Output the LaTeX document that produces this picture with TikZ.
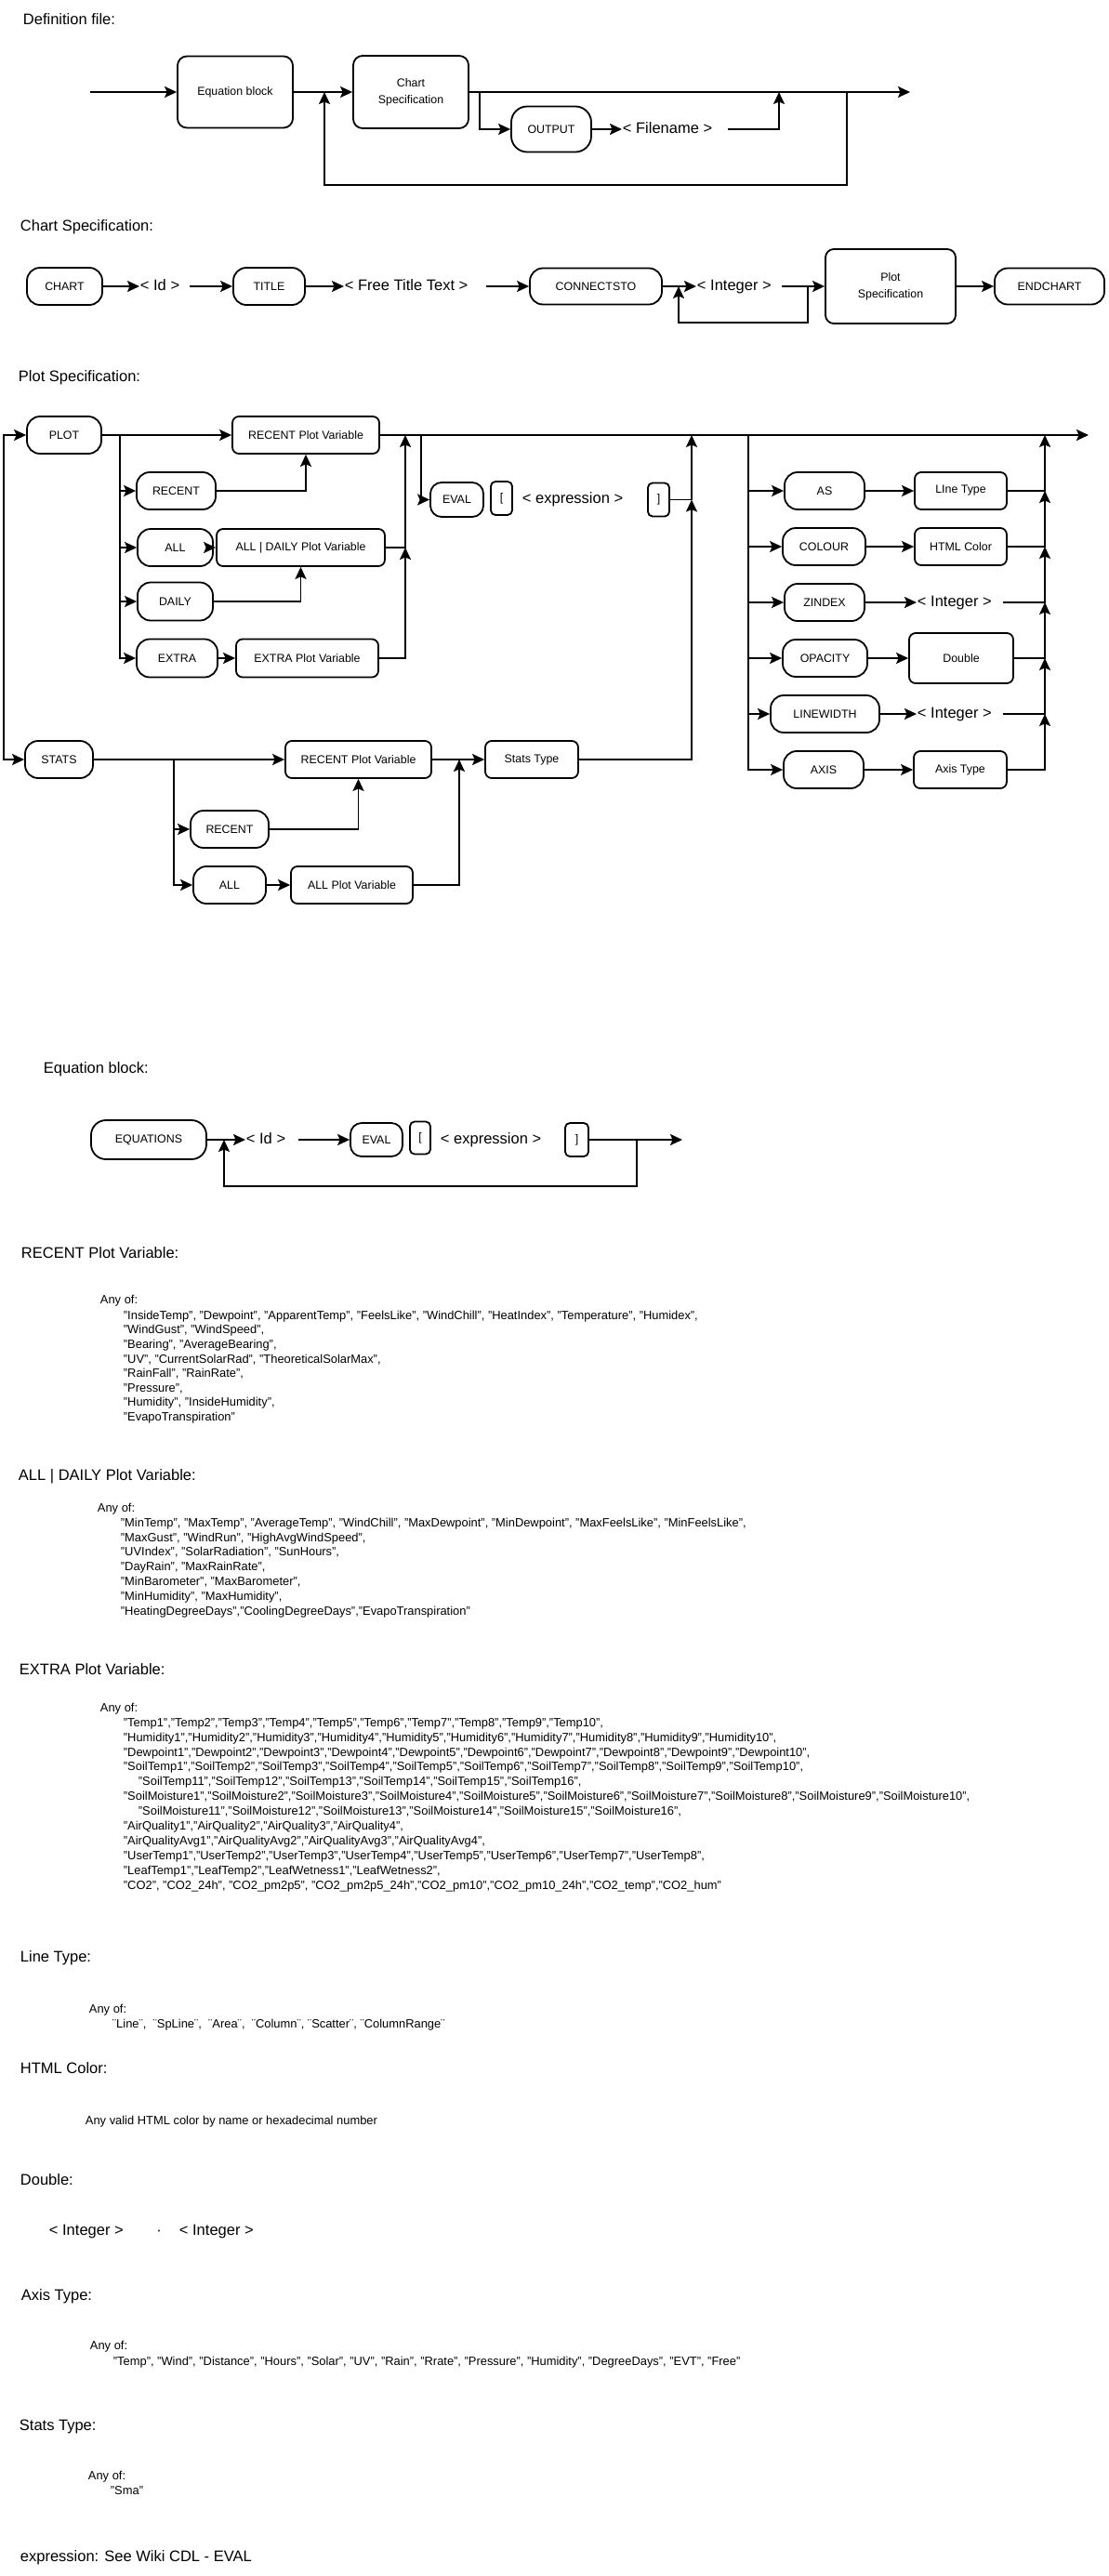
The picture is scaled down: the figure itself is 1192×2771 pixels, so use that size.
\documentclass[tikz,border=0pt]{standalone}
\usepackage{fontspec}
\setmainfont{Liberation Sans}
\usetikzlibrary{arrows.meta}
\tikzset{
        box/.style = {draw=black, line width=1.8pt, align=center, inner sep=0pt,
            font=\fontsize{12.4}{14}\selectfont},
        kw/.style = {box, rounded corners=14pt},
        nt/.style = {box, rounded corners=7pt},
        brk/.style = {box, rounded corners=5pt},
        tok/.style = {inner sep=0pt, text height=12pt, text depth=3.5pt,
            font=\fontsize{16.5}{18}\selectfont},
        head/.style = {anchor=west, inner sep=0pt, text height=12pt, text depth=3.5pt,
            font=\fontsize{16.5}{18}\selectfont},
        lst/.style = {anchor=west, inner sep=0pt, text height=9pt, text depth=2.5pt,
            font=\fontsize{12.9}{15}\selectfont}
    }
\begin{document}
\begin{tikzpicture}[x=1pt, y=-1pt, line width=1.9pt, ->,
        >={Stealth[length=13pt,width=12pt,inset=2.5pt]}]
\useasboundingbox (0,0) rectangle (1192,2771);

% Definition file
\node [head] (hdef) at (24,22) {Definition file:};
\coordinate (d0) at (97,99);
\node [nt, rounded corners=10pt, minimum width=124pt, minimum height=77pt] (eqb) at (253,99) {Equation block};
\node [nt, rounded corners=10pt, minimum width=124pt, minimum height=78pt] (chs) at (442,99) {Chart\\[4pt]Specification};
\node [kw, rounded corners=17pt, minimum width=86pt, minimum height=49pt] (out) at (593,139) {OUTPUT};
\node [tok, anchor=west] (fname) at (669,139) {< Filename >};
\coordinate (dend) at (979,99);
\coordinate (dj1) at (349,99);
\coordinate (dj2) at (516,99);
\coordinate (dj3) at (838,99);
\coordinate (dj4) at (911,99);
\draw (d0) -- (eqb);
\draw (eqb) -- (chs);
\draw (chs) -- (dend);
\draw (dj2) |- (out);
\draw (out) -- (fname);
\draw ([xshift=16pt]fname.east) -| (dj3);
\draw (dj4) -- ++(0,100) -| (dj1);

% Chart Specification
\node [head] (hchart) at (21,244) {Chart Specification:};
\node [kw, minimum width=81pt, minimum height=40pt] (chart) at (69.5,308) {CHART};
\node [tok, anchor=west] (cid) at (150,308) {< Id >};
\node [kw, minimum width=77pt, minimum height=40pt] (title) at (289.5,308) {TITLE};
\node [tok, anchor=west] (ftt) at (370,308) {< Free Title Text >};
\node [kw, minimum width=142pt, minimum height=39pt] (cto) at (641,308) {CONNECTSTO};
\node [tok, anchor=west] (cint) at (749,308) {< Integer >};
\node [nt, rounded corners=9pt, minimum width=140pt, minimum height=80pt] (psp) at (958,308) {Plot\\[4pt]Specification};
\node [kw, minimum width=118pt, minimum height=39pt] (endc) at (1129,308) {ENDCHART};
\coordinate (cj1) at (730,308);
\coordinate (cj2) at (869,308);
\draw (chart) -- (cid);
\draw ([xshift=10pt]cid.east) -- (title);
\draw (title) -- (ftt);
\draw ([xshift=19pt]ftt.east) -- (cto);
\draw (cto) -- (cint);
\draw ([xshift=10pt]cint.east) -- (psp);
\draw (psp) -- (endc);
\draw (cj2) -- ++(0,39) -| (cj1);

% Plot Specification
\node [head] (hplot) at (19,406) {Plot Specification:};
\node [kw, minimum width=80pt, minimum height=40pt] (plot) at (69,468) {PLOT};
\node [nt, minimum width=158pt, minimum height=40pt] (rpv) at (329,468) {RECENT Plot Variable};
\node [kw, minimum width=85pt, minimum height=40pt] (recent) at (189.5,528) {RECENT};
\node [kw, minimum width=81pt, minimum height=40pt] (all) at (188.5,589) {ALL};
\node [nt, minimum width=181pt, minimum height=40pt] (adpv) at (323.5,589) {ALL | DAILY Plot Variable};
\node [kw, minimum width=81pt, minimum height=41pt] (daily) at (188.5,647) {DAILY};
\node [kw, minimum width=87pt, minimum height=41pt] (extra) at (190.5,708) {EXTRA};
\node [nt, minimum width=153pt, minimum height=41pt] (epv) at (330.5,708) {EXTRA Plot Variable};
\node [kw, rounded corners=12pt, minimum width=57pt, minimum height=37pt] (eval) at (491.5,537.5) {EVAL};
\node [brk, minimum width=23pt, minimum height=36pt] (lbr) at (539.5,536) {[};
\node [tok, anchor=west] (expr) at (561,537.5) {< expression >};
\node [brk, minimum width=23pt, minimum height=36pt] (rbr) at (708.5,537.5) {]};
\node [kw, minimum width=86pt, minimum height=40pt] (as) at (887,528) {AS};
\node [nt, minimum width=99pt, minimum height=40pt] (ltype) at (1033.5,528) {LIne Type};
\node [kw, minimum width=89pt, minimum height=40pt] (colour) at (886.5,588) {COLOUR};
\node [nt, minimum width=99pt, minimum height=40pt] (html) at (1033.5,588) {HTML Color};
\node [kw, minimum width=86pt, minimum height=40pt] (zindex) at (887,648) {ZINDEX};
\node [tok, anchor=west] (zint) at (986,648) {< Integer >};
\node [kw, minimum width=91pt, minimum height=40pt] (opac) at (887.5,708) {OPACITY};
\node [nt, minimum width=112pt, minimum height=54pt] (dbl) at (1034,708) {Double};
\node [kw, minimum width=117pt, minimum height=40pt] (lw) at (887.5,768) {LINEWIDTH};
\node [tok, anchor=west] (lwint) at (986,768) {< Integer >};
\node [kw, minimum width=86pt, minimum height=40pt] (axis) at (886,828) {AXIS};
\node [nt, minimum width=100pt, minimum height=40pt] (atype) at (1033,828) {Axis Type};
\node [kw, minimum width=73pt, minimum height=40pt] (stats) at (63.5,817) {STATS};
\node [nt, minimum width=157pt, minimum height=40pt] (rpv2) at (385.5,817) {RECENT Plot Variable};
\node [kw, minimum width=84pt, minimum height=40pt] (recent2) at (247,892) {RECENT};
\node [kw, minimum width=78pt, minimum height=40pt] (all2) at (247,952) {ALL};
\node [nt, minimum width=131pt, minimum height=40pt] (apv) at (378.5,952) {ALL Plot Variable};
\node [nt, minimum width=100pt, minimum height=40pt] (stype) at (572,817) {Stats Type};
\coordinate (ppin) at (4,640);
\coordinate (pend) at (1171,468);
\coordinate (pb1) at (129,468);
\coordinate (pm1) at (436,589);
\coordinate (pm2) at (436,468);
\coordinate (pe0) at (453,468);
\coordinate (pm3) at (744,537.5);
\coordinate (pm4) at (744,468);
\coordinate (pq0) at (805,468);
\coordinate (pb2) at (187,817);
\coordinate (ps1) at (494,817);
\draw (ppin) |- (plot);
\draw (ppin) |- (stats);
\draw (plot) -- (rpv);
\draw (rpv) -- (pend);
\draw (pb1) |- (recent);
\draw (pb1) |- (all);
\draw (pb1) |- (daily);
\draw (pb1) |- (extra);
\draw (recent) -| (rpv);
\draw (all) -- (adpv);
\draw (daily) -| (adpv);
\draw (extra) -- (epv);
\draw (epv) -| (pm1);
\draw (adpv) -| (pm2);
\draw (pe0) |- (eval);
\draw (rbr) -| (pm4);
\foreach \opt in {as,colour,zindex,opac,lw,axis}
    \draw (pq0) |- (\opt);
\draw (as) -- (ltype);
\draw (colour) -- (html);
\draw (zindex) -- (zint);
\draw (opac) -- (dbl);
\draw (lw) -- (lwint);
\draw (axis) -- (atype);
\draw (atype) -| (1124,768);
\draw ([xshift=11pt]lwint.east) -| (1124,708);
\draw (dbl) -| (1124,648);
\draw ([xshift=11pt]zint.east) -| (1124,588);
\draw (html) -| (1124,528);
\draw (ltype) -| (1124,468);
\draw (stats) -- (rpv2);
\draw (pb2) |- (recent2);
\draw (pb2) |- (all2);
\draw (recent2) -| (rpv2);
\draw (all2) -- (apv);
\draw (apv) -| (ps1);
\draw (rpv2) -- (stype);
\draw (stype) -| (pm3);

% Equation block
\node [head] (heq) at (46,1150) {Equation block:};
\node [kw, rounded corners=16pt, minimum width=124pt, minimum height=42pt] (eqs) at (160,1226) {EQUATIONS};
\node [tok, anchor=west] (eid) at (264,1226) {< Id >};
\node [kw, rounded corners=12pt, minimum width=56pt, minimum height=36pt] (eval2) at (405,1226) {EVAL};
\node [brk, minimum width=22pt, minimum height=35pt] (lbr2) at (452,1224) {[};
\node [tok, anchor=west] (expr2) at (473,1226) {< expression >};
\node [brk, minimum width=25pt, minimum height=36pt] (rbr2) at (620.5,1226) {]};
\coordinate (eend) at (734,1226);
\coordinate (ej1) at (241,1226);
\coordinate (ej2) at (685,1226);
\draw (eqs) -- (eid);
\draw ([xshift=13pt]eid.east) -- (eval2);
\draw (rbr2) -- (eend);
\draw (ej2) -- ++(0,50) -| (ej1);

% RECENT Plot Variable
\node [head] (hrpv) at (22,1349) {RECENT Plot Variable:};
\node [lst] (rpvany) at (107,1399) {Any of:};
\foreach \txt [count=\i] in {
    {"InsideTemp", "Dewpoint", "ApparentTemp", "FeelsLike", "WindChill", "HeatIndex", "Temperature", "Humidex",},
    {"WindGust", "WindSpeed",},
    {"Bearing", "AverageBearing",},
    {"UV", "CurrentSolarRad", "TheoreticalSolarMax",},
    {"RainFall", "RainRate",},
    {"Pressure",},
    {"Humidity", "InsideHumidity",},
    {"EvapoTranspiration"}}
    \node [lst] (rpvl\i) at (132,1400.4+15.6*\i) {\txt};

% ALL | DAILY Plot Variable
\node [head] (hadpv) at (19,1588) {ALL | DAILY Plot Variable:};
\node [lst] (adpvany) at (104,1623) {Any of:};
\foreach \txt [count=\i] in {
    {"MinTemp", "MaxTemp", "AverageTemp", "WindChill", "MaxDewpoint", "MinDewpoint", "MaxFeelsLike", "MinFeelsLike",},
    {"MaxGust", "WindRun", "HighAvgWindSpeed",},
    {"UVIndex", "SolarRadiation", "SunHours",},
    {"DayRain", "MaxRainRate",},
    {"MinBarometer", "MaxBarometer",},
    {"MinHumidity", "MaxHumidity",},
    {"HeatingDegreeDays","CoolingDegreeDays","EvapoTranspiration"}}
    \node [lst] (adpvl\i) at (129,1623.2+15.8*\i) {\txt};

% EXTRA Plot Variable
\node [head] (hepv) at (20,1797) {EXTRA Plot Variable:};
\node [lst] (epvany) at (107,1838) {Any of:};
\foreach \txt [count=\i] in {
    {"Temp1","Temp2","Temp3","Temp4","Temp5","Temp6","Temp7","Temp8","Temp9","Temp10",},
    {"Humidity1","Humidity2","Humidity3","Humidity4","Humidity5","Humidity6","Humidity7","Humidity8","Humidity9","Humidity10",},
    {"Dewpoint1","Dewpoint2","Dewpoint3","Dewpoint4","Dewpoint5","Dewpoint6","Dewpoint7","Dewpoint8","Dewpoint9","Dewpoint10",},
    {"SoilTemp1","SoilTemp2","SoilTemp3","SoilTemp4","SoilTemp5","SoilTemp6","SoilTemp7","SoilTemp8","SoilTemp9","SoilTemp10",},
    {\hspace*{16pt}"SoilTemp11","SoilTemp12","SoilTemp13","SoilTemp14","SoilTemp15","SoilTemp16",},
    {"SoilMoisture1","SoilMoisture2","SoilMoisture3","SoilMoisture4","SoilMoisture5","SoilMoisture6","SoilMoisture7","SoilMoisture8","SoilMoisture9","SoilMoisture10",},
    {\hspace*{16pt}"SoilMoisture11","SoilMoisture12","SoilMoisture13","SoilMoisture14","SoilMoisture15","SoilMoisture16",},
    {"AirQuality1","AirQuality2","AirQuality3","AirQuality4",},
    {"AirQualityAvg1","AirQualityAvg2","AirQualityAvg3","AirQualityAvg4",},
    {"UserTemp1","UserTemp2","UserTemp3","UserTemp4","UserTemp5","UserTemp6","UserTemp7","UserTemp8",},
    {"LeafTemp1","LeafTemp2","LeafWetness1","LeafWetness2",},
    {"CO2", "CO2\_24h", "CO2\_pm2p5", "CO2\_pm2p5\_24h","CO2\_pm10","CO2\_pm10\_24h","CO2\_temp","CO2\_hum"}}
    \node [lst] (epvl\i) at (132,1838.1+15.9*\i) {\txt};

% Line Type
\node [head] (hlt) at (21,2106) {Line Type:};
\node [lst] (ltany) at (95,2162) {Any of:};
\node [lst] (ltl) at (120,2178) {¨Line¨,\ \ ¨SpLine¨,\ \ ¨Area¨,\ \ ¨Column¨, ¨Scatter¨,\ ¨ColumnRange¨};

% HTML Color
\node [head] (hhc) at (21,2226) {HTML Color:};
\node [lst] (hcl) at (91,2282) {Any valid HTML color by name or hexadecimal number};

% Double
\node [head] (hdbl) at (21,2346) {Double:};
\node [tok, anchor=west] (dint1) at (52,2400) {< Integer >};
\node [tok] (ddot) at (171,2400) {·};
\node [tok, anchor=west] (dint2) at (192,2400) {< Integer >};

% Axis Type
\node [head] (hat) at (22,2470) {Axis Type:};
\node [lst] (atany) at (96,2524) {Any of:};
\node [lst] (atl) at (121,2541) {"Temp", "Wind", "Distance", "Hours", "Solar", "UV", "Rain", "Rrate", "Pressure", "Humidity", "DegreeDays", "EVT", "Free"};

% Stats Type
\node [head] (hst) at (20,2610) {Stats Type:};
\node [lst] (stany) at (94,2664) {Any of:};
\node [lst] (stl) at (118,2680) {"Sma"};

% expression
\node [head] (hexpr) at (21,2751) {expression: See Wiki CDL - EVAL};
\end{tikzpicture}
\end{document}
